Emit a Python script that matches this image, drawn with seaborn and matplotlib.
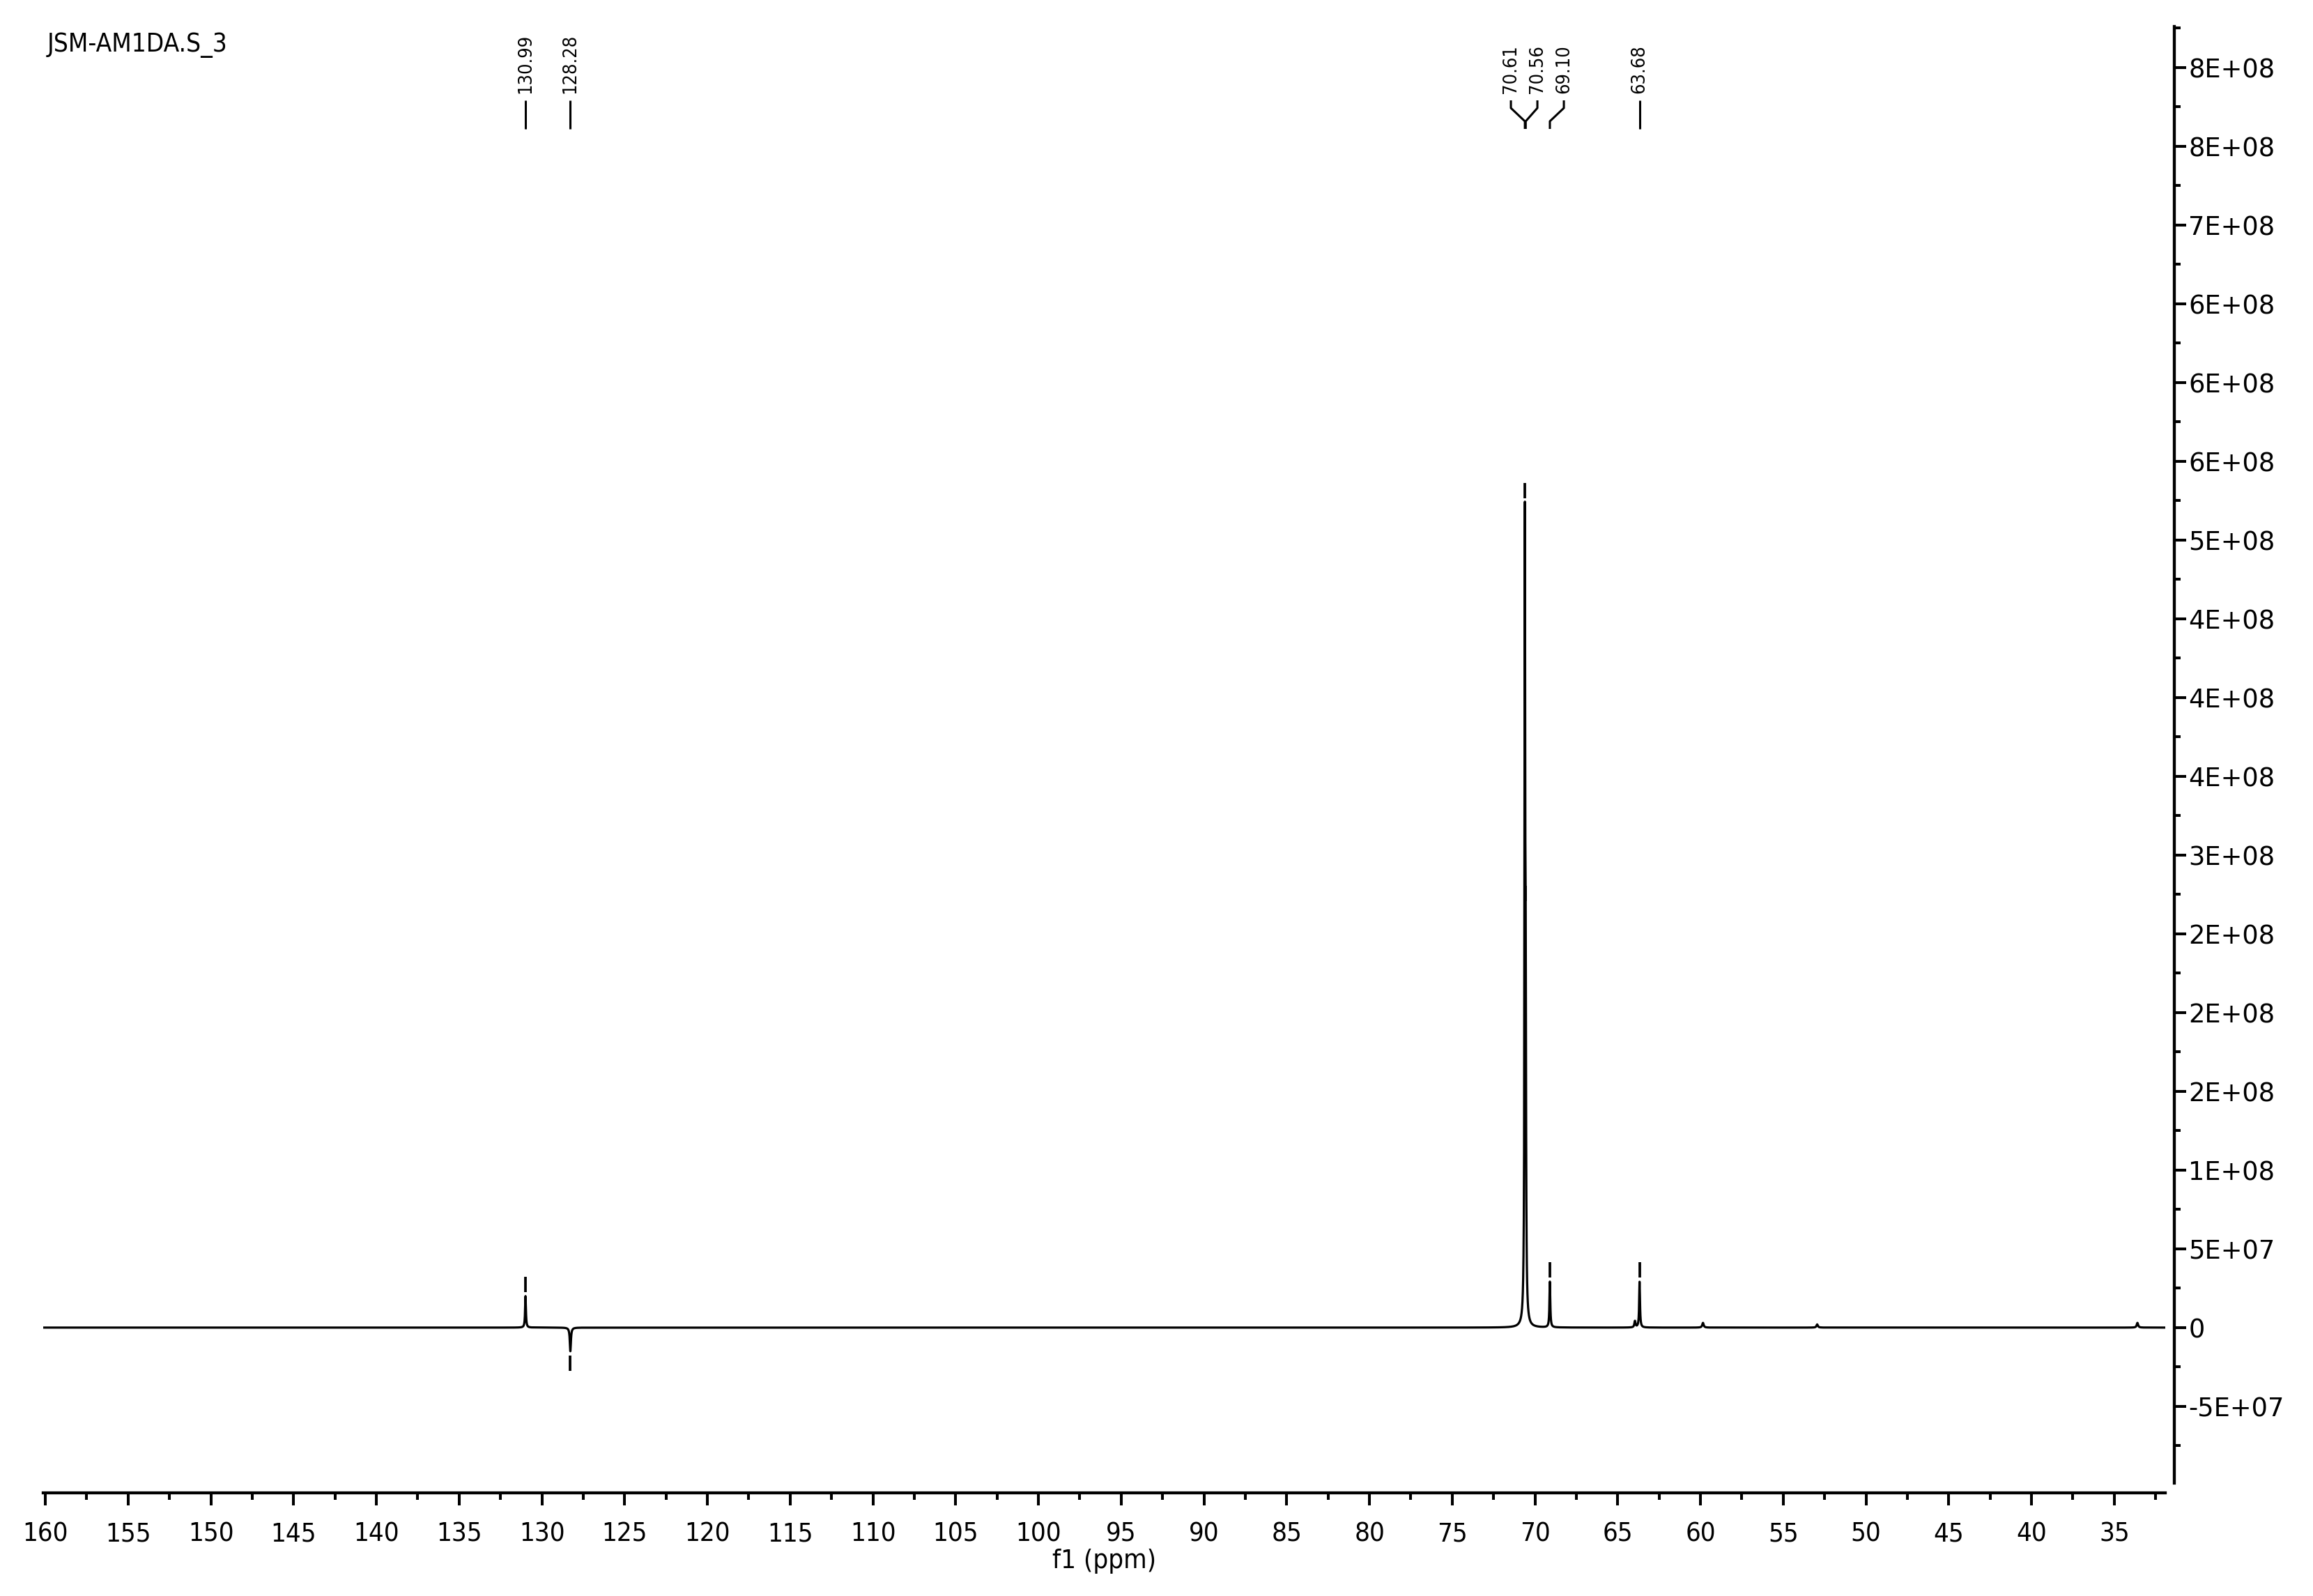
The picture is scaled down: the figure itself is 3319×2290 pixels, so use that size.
import numpy as np
import pandas as pd
import seaborn as sns
import matplotlib.pyplot as plt
from matplotlib.ticker import MultipleLocator, FuncFormatter
from matplotlib.transforms import blended_transform_factory

# Peaks: shift (ppm), amplitude, half width (ppm)
shift = [130.99, 128.28, 70.61, 70.56, 69.10, 63.68, 63.96, 59.85, 52.95, 33.60]
amplitude = [2.0e7, -1.5e7, 4.9e8, 1.7e8, 2.9e7, 2.9e7, 4.0e6, 3.0e6, 2.0e6, 3.0e6]
half_width = [0.03, 0.04, 0.025, 0.025, 0.03, 0.03, 0.04, 0.05, 0.05, 0.05]

# picked peaks with labels on top
picked = [130.99, 128.28, 70.61, 70.56, 69.10, 63.68]
picked_labels = ["130.99", "128.28", "70.61", "70.56", "69.10", "63.68"]

title = "JSM-AM1DA.S_3"
x_label = "f1 (ppm)"

W, H = 3319, 2290
x_lo, x_hi = 160.13, 31.92
y_lo, y_hi = -9.85e7, 8.26e8

# build spectrum from the peak list (lorentzian lines)
ppm = np.arange(x_hi, x_lo, 0.001)
inten = np.zeros_like(ppm)
for c, a, g in zip(shift, amplitude, half_width):
    inten += a * g**2 / ((ppm - c)**2 + g**2)
df = pd.DataFrame({"ppm": ppm, "intensity": inten})

sns.set_theme(style="ticks")
plt.rcParams["font.family"] = ["DejaVu Sans"]
plt.rcParams["font.stretch"] = "condensed"
plt.rcParams["text.color"] = "black"
plt.rcParams["axes.labelcolor"] = "black"

fig = plt.figure(figsize=(W / 100, H / 100), dpi=100, facecolor="white")
ax = fig.add_axes([62 / W, 1 - 2127.5 / H, (3107 - 62) / W, (2127.5 - 38) / H])

sns.lineplot(data=df, x="ppm", y="intensity", ax=ax, color="black",
             linewidth=2.3, estimator=None, sort=False)

ax.set_xlim(x_lo, x_hi)
ax.set_ylim(y_lo, y_hi)

# axes look
ax.spines["left"].set_visible(False)
ax.spines["top"].set_visible(False)
ax.spines["right"].set_position(("outward", 13 * 0.72))
ax.spines["bottom"].set_position(("outward", 14 * 0.72))
for s in ["right", "bottom"]:
    ax.spines[s].set_linewidth(3.1)
    ax.spines[s].set_color("black")
ax.yaxis.tick_right()
ax.yaxis.set_label_position("right")

ax.xaxis.set_major_locator(MultipleLocator(5))
ax.xaxis.set_minor_locator(MultipleLocator(2.5))
ax.xaxis.set_major_formatter(FuncFormatter(lambda v, p: "%d" % round(v)))
ax.yaxis.set_major_locator(MultipleLocator(5e7))
ax.yaxis.set_minor_locator(MultipleLocator(2.5e7))
ax.yaxis.set_major_formatter(FuncFormatter(lambda v, p: "0" if abs(v) < 1 else "%.0E" % v))

ax.tick_params(which="both", direction="out", width=2.9, color="black", labelcolor="black")
ax.tick_params(which="major", length=13, labelsize=27.5)
ax.tick_params(which="minor", length=7.2)
ax.tick_params(axis="y", which="major", length=12.5, labelsize=26.5, pad=2)
ax.tick_params(axis="y", which="minor", length=6.5)
ax.tick_params(axis="x", which="major", pad=17)
plt.setp(ax.get_yticklabels(), fontstretch="normal")

ax.set_xlabel(x_label, fontsize=27.5, labelpad=2, color="black")
ax.set_ylabel("")

fig.text(68 / W, 1 - 46 / H, title, ha="left", va="top", fontsize=26.5, color="black")

# peak markers just above (or below) each picked peak
px_unit = 5e7 / 113.0
for p in picked:
    i = np.argmin(np.abs(ppm - p))
    yp = inten[i]
    sg = 1 if yp >= 0 else -1
    y0 = yp + sg * 6 * px_unit
    y1 = y0 + sg * 22 * px_unit
    ax.plot([p, p], [y0, y1], color="black", lw=2.7, solid_capstyle="butt")

# peak labels, spread where they crowd
gap = 38 / 23.75
order = sorted(range(len(picked)), key=lambda k: -picked[k])
groups = []
for k in order:
    if groups and picked[groups[-1][-1]] - picked[k] < gap:
        groups[-1].append(k)
    else:
        groups.append([k])
label_x = {}
for g in groups:
    mid = (picked[g[0]] + picked[g[-1]]) / 2
    n = len(g)
    for j, k in enumerate(g):
        label_x[k] = mid + ((n - 1) / 2 - j) * gap

trans = blended_transform_factory(ax.transData, fig.transFigure)
fy = lambda v: 1 - v / H
for k, p in enumerate(picked):
    lx = label_x[k]
    ax.text(lx, fy(134), picked_labels[k], rotation=90, ha="center", va="bottom",
            fontsize=19.5, color="black", transform=trans, clip_on=False)
    ax.plot([lx, lx, p, p], [fy(144), fy(155), fy(174), fy(185)], transform=trans,
            color="black", lw=2.2, clip_on=False, solid_capstyle="butt")

fig.savefig("out.png", dpi=100, facecolor="white")
